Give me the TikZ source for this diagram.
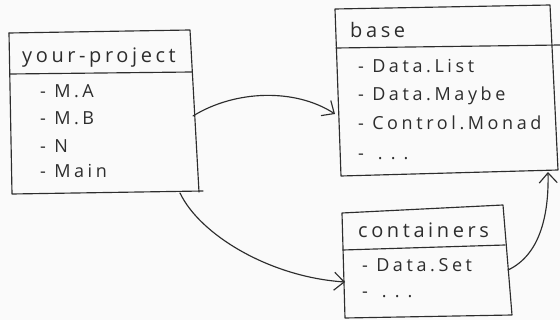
\documentclass[tikz,border=0pt]{standalone}
\usepackage{fontspec}
\setmainfont{Open Sans}[LetterSpace=18]
\usetikzlibrary{arrows.meta}
\definecolor{inkgray}{RGB}{45,45,45}
\definecolor{paper}{RGB}{250,250,250}
\begin{document}
\begin{tikzpicture}[x=1pt,y=-1pt,
  ink/.style={draw=inkgray, line width=1.15pt, line cap=round, line join=round},
  link/.style={ink, -{Straight Barb[length=10pt,width=18pt,line width=1.15pt]}},
  title/.style={anchor=base west, inner sep=0pt, text=inkgray, font=\fontsize{20}{24}\selectfont},
  item/.style={anchor=base west, inner sep=0pt, text=inkgray, font=\fontsize{18}{22}\selectfont\addfontfeature{LetterSpace=20}}]

% paper
\useasboundingbox (0,0) rectangle (560,320);
\fill[paper] (0,0) rectangle (560,320);

% ---- your-project package ----
\coordinate (yp-tl) at (9,33);
\coordinate (yp-tr) at (190,30);
\coordinate (yp-br) at (199,192);
\coordinate (yp-bl) at (12,194);
\draw[ink] (yp-tl) -- (yp-tr) -- (yp-br);
\draw[ink] (yp-tl) -- (yp-bl) -- (203,191);
\draw[ink] (10,74) -- (192,72);
\node[title] (yp-title) at (22,63) {your-project};
\node[item] (yp-a) at (40,98)  {- M.A};
\node[item] (yp-b) at (40,125) {- M.B};
\node[item] (yp-n) at (40,153) {- N};
\node[item] (yp-m) at (40,178) {- Main};

% ---- base package ----
\coordinate (b-tl) at (335,9);
\coordinate (b-tr) at (550,5);
\coordinate (b-br) at (558,170);
\coordinate (b-bl) at (341,176);
\draw[ink] (b-tl) -- (b-tr) -- (b-br) -- (b-bl) -- cycle;
\draw[ink] (336,48) -- (560,45);
\node[title] (b-title) at (350,38) {base};
\node[item] (b-1) at (358,73)  {- Data.List};
\node[item] (b-2) at (358,101) {- Data.Maybe};
\node[item] (b-3) at (358,130) {- Control.Monad};
\node[item] (b-4) at (358,160) {-\hspace{14pt}.\hspace{8pt}.\hspace{8pt}.};

% ---- containers package ----
\coordinate (c-tl) at (342,213);
\coordinate (c-tr) at (503,205);
\coordinate (c-br) at (512,315);
\coordinate (c-bl) at (345,318);
\draw[ink] (c-tl) -- (c-tr) -- (c-br) -- (c-bl) -- cycle;
\draw[ink] (343,250) -- (505,245);
\node[title] (c-title) at (358,238) {containers};
\node[item] (c-1) at (362,272) {- Data.Set};
\node[item] (c-2) at (362,298) {-\hspace{14pt}.\hspace{8pt}.\hspace{8pt}.};

% ---- dependency arrows ----
\coordinate (yp-east)  at (193,116);
\coordinate (yp-south) at (180,193);
\coordinate (b-west)   at (335,114);
\coordinate (b-south)  at (548,172);
\coordinate (c-west)   at (345,282);
\coordinate (c-east)   at (508,270);

\draw[link] (yp-east) .. controls (235,90) and (295,88) .. (b-west);
\draw[link] (yp-south) .. controls (200,235) and (270,277) .. (c-west);
\draw[link] (c-east) .. controls (540,255) and (549,215) .. (b-south);
\end{tikzpicture}
\end{document}
